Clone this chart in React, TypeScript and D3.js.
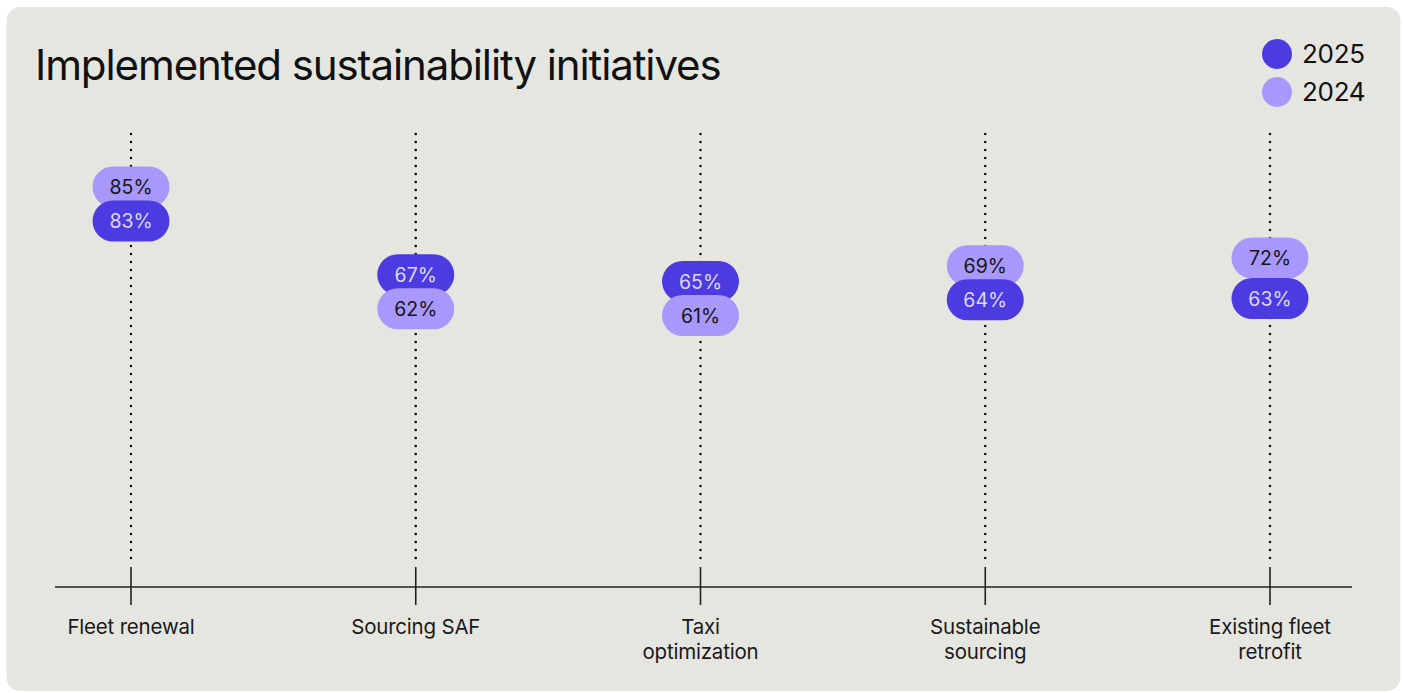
import React from "react";
import * as d3 from "d3";

// Initiatives shown along the x axis (label lines)
const categories = ["Fleet renewal", "Sourcing SAF", "Taxi optimization", "Sustainable sourcing", "Existing fleet retrofit"];
const categoryLines = [["Fleet renewal"], ["Sourcing SAF"], ["Taxi", "optimization"], ["Sustainable", "sourcing"], ["Existing fleet", "retrofit"]];

// Share of respondents that implemented each initiative (%)
const values2025 = [83, 67, 65, 64, 63];
const values2024 = [85, 62, 61, 69, 72];

const seriesNames = ["2025", "2024"];

const W = 1403;
const H = 693;
const FONT = "Inter, 'Noto Sans', sans-serif";
const DARK = "#4b3be1";
const LIGHT = "#a898fb";
const PILL_W = 77;
const PILL_H = 41;
const MIN_GAP = 34;

type Pill = { key: string; x: number; y: number; value: number; series: number };

export default function App() {
  const x = d3.scalePoint<string>().domain(categories).range([131, 1270]);
  const y = d3.scaleLinear().domain([0, 100]).range([582, 132]);
  const axisY = 587;

  // Place the two pills of each initiative, nudging them apart when they would overlap
  const pills: Pill[] = [];
  categories.forEach((c, i) => {
    const vals = [values2025[i], values2024[i]];
    let ys = vals.map((v) => y(v));
    const d = Math.abs(ys[0] - ys[1]);
    if (d < MIN_GAP) {
      const mid = (ys[0] + ys[1]) / 2;
      const sign = ys[0] <= ys[1] ? -1 : 1;
      ys = [mid + (sign * MIN_GAP) / 2, mid - (sign * MIN_GAP) / 2];
    }
    const cx = x(c) as number;
    const pair = vals.map((v, s) => ({ key: `${c}-${s}`, x: cx, y: ys[s], value: v, series: s }));
    // lower pill is drawn last so it sits on top
    pair.sort((a, b) => a.y - b.y);
    pills.push(...pair);
  });

  return (
    <div style={{ position: "absolute", left: 0, top: 0 }}>
      <svg width={W} height={H} style={{ display: "block" }}>
        <rect x={0} y={0} width={W} height={H} fill="#ffffff" />
        <rect x={6.5} y={7} width={1394} height={684} rx={14} fill="#e6e6e1" />

        <text x={35} y={80} fontFamily={FONT} fontSize={42} fill="#111" letterSpacing={-1.1}>
          Implemented sustainability initiatives
        </text>

        {/* legend */}
        {seriesNames.map((s, i) => (
          <g key={s} transform={`translate(1277, ${54 + i * 38})`}>
            <circle r={15} fill={i === 0 ? DARK : LIGHT} />
            <text x={25} y={9} fontFamily={FONT} fontSize={26} fill="#111" letterSpacing={-0.3}>
              {s}
            </text>
          </g>
        ))}

        {/* dotted guides */}
        {categories.map((c) => (
          <line
            key={c}
            x1={x(c)}
            x2={x(c)}
            y1={134}
            y2={564}
            stroke="#111"
            strokeWidth={2.6}
            strokeLinecap="round"
            strokeDasharray="0 8"
          />
        ))}

        {/* axis */}
        <line x1={55} x2={1352} y1={axisY} y2={axisY} stroke="#222" strokeWidth={1.6} />
        {categories.map((c, i) => (
          <g key={c}>
            <line x1={x(c)} x2={x(c)} y1={567} y2={605} stroke="#222" strokeWidth={1.6} />
            <text x={x(c)} y={634} textAnchor="middle" fontFamily={FONT} fontSize={20.5} fill="#1a1a1a" letterSpacing={-0.2}>
              {categoryLines[i].map((ln, j) => (
                <tspan key={j} x={x(c)} dy={j === 0 ? 0 : 25}>
                  {ln}
                </tspan>
              ))}
            </text>
          </g>
        ))}

        {/* value pills */}
        {pills.map((p) => (
          <g key={p.key} transform={`translate(${p.x}, ${p.y})`}>
            <rect
              x={-PILL_W / 2}
              y={-PILL_H / 2}
              width={PILL_W}
              height={PILL_H}
              rx={PILL_H / 2}
              fill={p.series === 0 ? DARK : LIGHT}
            />
            <text
              y={7}
              textAnchor="middle"
              fontFamily={FONT}
              fontSize={19.5}
              fill={p.series === 0 ? "#ddd9ff" : "#161616"}
            >
              {`${p.value}%`}
            </text>
          </g>
        ))}
      </svg>
    </div>
  );
}
